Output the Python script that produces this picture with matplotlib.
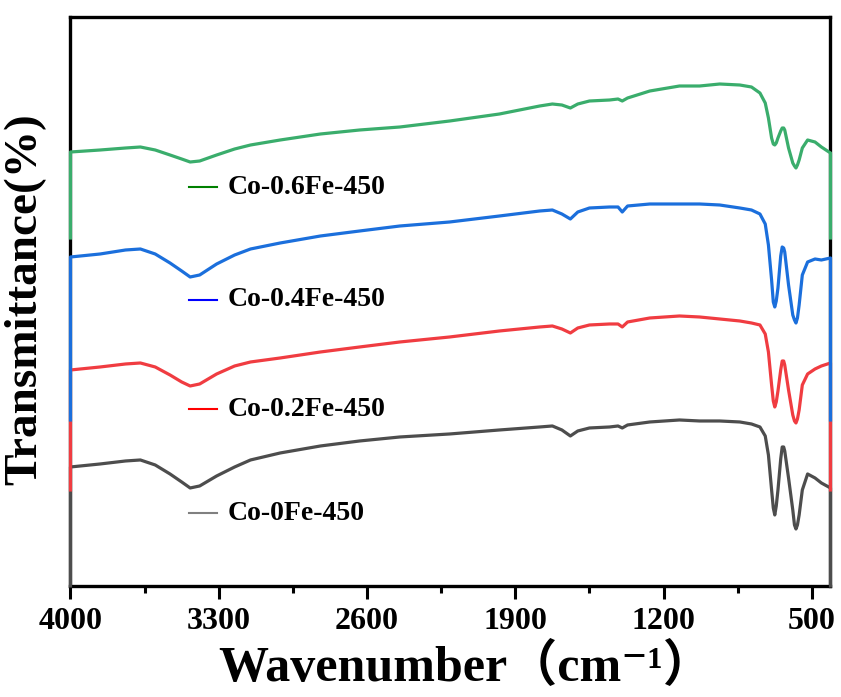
import numpy as np
import matplotlib
matplotlib.use('Agg')
import matplotlib.pyplot as plt

plt.rcParams['font.family'] = ['Liberation Serif', 'DejaVu Serif', 'Noto Sans CJK SC']
plt.rcParams['font.weight'] = 'bold'

# FTIR spectra, stacked (arbitrary transmittance units)
wavenumber = [4000, 3860, 3740, 3670, 3600, 3530, 3475, 3435, 3390, 3310,
              3225, 3150, 3010, 2820, 2635, 2445, 2210, 1975, 1785, 1725,
              1680, 1640, 1605, 1550, 1455, 1415, 1395, 1370, 1265, 1125,
              1030, 935, 840, 785, 745, 720, 705, 690, 682, 675, 668, 660,
              647, 640, 633, 628, 610, 590, 582, 575, 568, 560, 545, 520,
              485, 455, 412]

co_0fe = [119, 122, 125, 126, 121, 112, 104, 98, 100, 110,
          119, 126, 133, 140, 145, 149, 152, 156, 159, 160,
          156, 150, 155, 158, 159, 160, 158, 161, 164, 166,
          165, 165, 164, 162, 159, 150, 131, 96, 78, 71, 80, 96,
          127, 139, 139, 135, 108, 76, 61, 57, 61, 71, 96, 112,
          108, 103, 98]

co_02fe = [216, 219, 222, 223, 219, 211, 204, 200, 202, 212,
           220, 224, 228, 234, 239, 244, 249, 255, 259, 260,
           257, 253, 258, 261, 262, 262, 259, 264, 268, 270,
           269, 267, 265, 263, 261, 252, 234, 201, 185, 179, 184, 195,
           216, 225, 225, 221, 196, 171, 165, 163, 167, 176, 201, 212,
           217, 220, 223]

co_04fe = [329, 332, 336, 337, 332, 323, 315, 309, 311, 322,
           331, 337, 343, 350, 355, 360, 364, 370, 375, 376,
           372, 367, 374, 378, 379, 379, 374, 380, 382, 382,
           382, 381, 378, 376, 372, 362, 341, 306, 284, 279, 285, 298,
           330, 339, 338, 334, 301, 271, 266, 263, 268, 281, 311, 324,
           327, 326, 328]

co_06fe = [434, 436, 438, 439, 436, 431, 427, 424, 425, 431,
           437, 441, 446, 452, 456, 459, 465, 472, 480, 482,
           481, 478, 482, 485, 486, 487, 485, 488, 495, 500,
           500, 502, 501, 499, 493, 483, 468, 448, 442, 441, 443, 448,
           455, 458, 458, 456, 438, 423, 420, 418, 421, 426, 438, 446,
           444, 439, 433]

# level each trace drops to at both ends of the scan
edge_floor = [0, 96, 166, 348]

labels = ['Co-0Fe-450', 'Co-0.2Fe-450', 'Co-0.4Fe-450', 'Co-0.6Fe-450']
line_colors = ['#4d4d4d', '#f03c41', '#1b6fdc', '#3aad6c']
key_colors = ['#808080', '#ff0000', '#0000ff', '#008000']
key_ypos = [0.128, 0.311, 0.503, 0.701]

major_ticks = [4000, 3300, 2600, 1900, 1200, 500]
minor_ticks = [3650, 2950, 2250, 1550, 850]

fig = plt.figure(figsize=(8.41, 6.97), dpi=100)
ax = fig.add_axes([0.0838, 0.1593, 0.9037, 0.8163])

series = [co_0fe, co_02fe, co_04fe, co_06fe]
for y, floor, c in zip(series, edge_floor, line_colors):
    x = [wavenumber[0]] + wavenumber + [wavenumber[-1]]
    yy = [floor] + y + [floor]
    ax.plot(x, yy, color=c, lw=2.3, zorder=3, clip_on=False,
            solid_joinstyle='round')

# labels placed next to each trace
for lab, c, yp in zip(labels, key_colors, key_ypos):
    ax.plot([0.156, 0.193], [yp, yp], color=c, lw=1.5,
            transform=ax.transAxes)
    ax.text(0.207, yp, lab, transform=ax.transAxes, fontsize=20,
            fontweight='bold', va='center', ha='left')

ax.set_xlim(4000, 412)
ax.set_ylim(0, 569)
ax.set_xticks(major_ticks)
ax.set_xticks(minor_ticks, minor=True)
ax.set_yticks([])
ax.tick_params(axis='x', which='major', direction='out', length=9, width=2.2,
               labelsize=23, pad=6)
ax.tick_params(axis='x', which='minor', direction='out', length=5, width=2.2)
for lab in ax.get_xticklabels():
    lab.set_fontweight('bold')
for sp in ax.spines.values():
    sp.set_linewidth(2.4)

ax.set_xlabel('Wavenumber（cm⁻¹）', fontsize=36, fontweight='bold', labelpad=6)
ax.xaxis.label.set_x(0.52)
ax.set_ylabel('Transmittance(%)', fontsize=34, fontweight='bold')
ax.yaxis.set_label_coords(-0.032, 0.505)

fig.savefig('out.png', dpi=100)
